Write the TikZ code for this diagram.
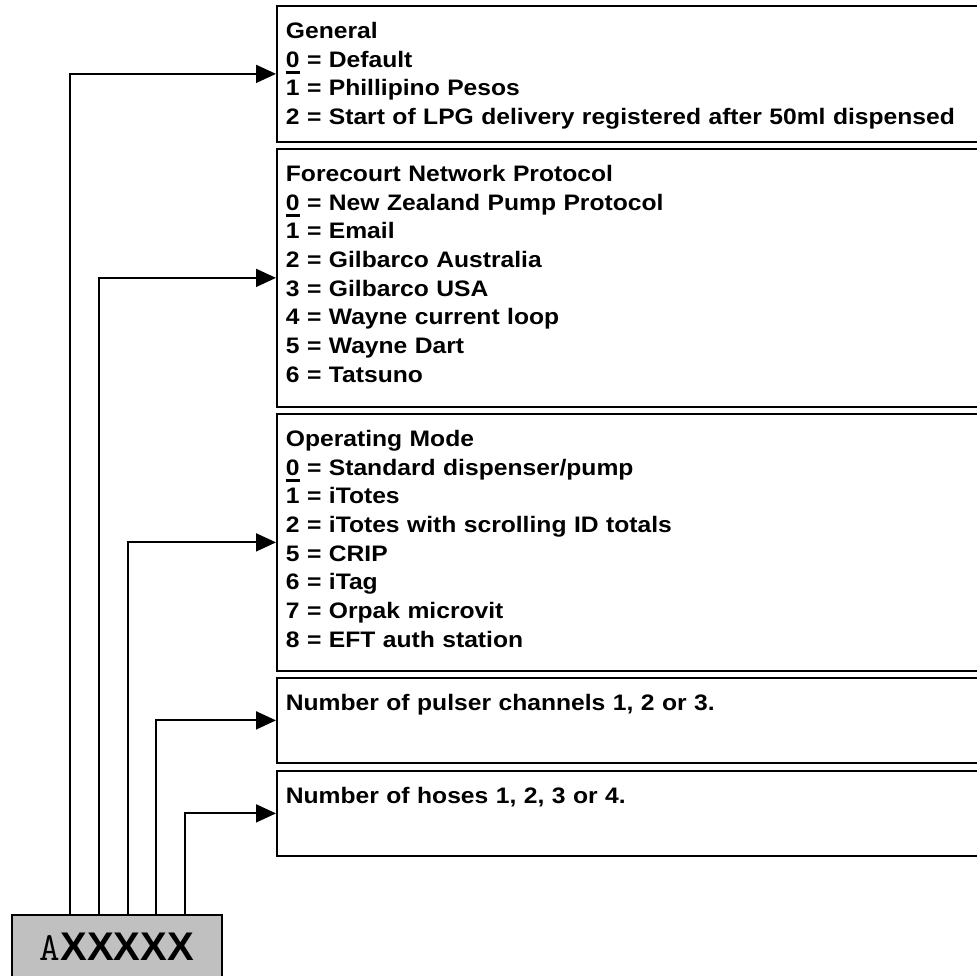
\documentclass[tikz,border=0pt]{standalone}
\usepackage{fontspec}
\setsansfont{Liberation Sans}
\newfontfamily\widesans{Liberation Sans}[FakeStretch=1.1]
\usepackage{xcolor}
\usepackage{tikz}
\usetikzlibrary{arrows.meta}

\definecolor{codegrey}{HTML}{C0C0C0}
% default value, underlined with a heavy rule
\newcommand{\defval}[1]{\leavevmode\setbox0\hbox{#1}\rlap{\rule[-6.5pt]{\wd0}{3pt}}#1}
\tikzset{
  optbox/.style={draw, line width=1.8pt, anchor=north west, text width=700pt,
    inner xsep=9pt, inner ysep=0pt, text height=32.5pt, align=left,
    font=\widesans\bfseries\fontsize{22.4}{28.7}\selectfont},
  wire/.style={line width=1.8pt, -{Triangle[length=20pt,width=18pt]}}
}

\begin{document}
\begin{tikzpicture}[x=1pt,y=1pt]
\clip (0,0) rectangle (977,976);
% option boxes, running off the right edge
\node[optbox, text depth=103.5pt] (gen) at (276,971) {General\\
  \defval{0} = Default\\
  1 = Phillipino Pesos\\
  2 = Start of LPG delivery registered after 50ml dispensed};
\node[optbox, text depth=225.5pt] (net) at (276,828) {Forecourt Network Protocol\\
  \defval{0} = New Zealand Pump Protocol\\
  1 = Email\\
  2 = Gilbarco Australia\\
  3 = Gilbarco USA\\
  4 = Wayne current loop\\
  5 = Wayne Dart\\
  6 = Tatsuno};
\node[optbox, text depth=224.5pt] (mode) at (276,563) {Operating Mode\\
  \defval{0} = Standard dispenser/pump\\
  1 = iTotes\\
  2 = iTotes with scrolling ID totals\\
  5 = CRIP\\
  6 = iTag\\
  7 = Orpak microvit\\
  8 = EFT auth station};
\node[optbox, text depth=52.5pt] (pulser) at (276,299) {Number of pulser channels 1, 2 or 3.};
\node[optbox, text depth=52.5pt] (hoses) at (276,206) {Number of hoses 1, 2, 3 or 4.};
% code field
\node[draw, line width=1.8pt, fill=codegrey, anchor=north west, minimum width=210pt,
  inner ysep=0pt, text height=46pt, text depth=34pt,
  font=\fontsize{40}{42}\selectfont] (code) at (11,62)
  {{\ttfamily A}{\sffamily\bfseries XXXXX}};
\foreach \n/\dx in {gen/-47, net/-18, mode/11, pulser/39, hoses/68}
  \draw[wire] ([xshift=\dx pt]code.north) |- (\n.west);
\end{tikzpicture}
\end{document}
